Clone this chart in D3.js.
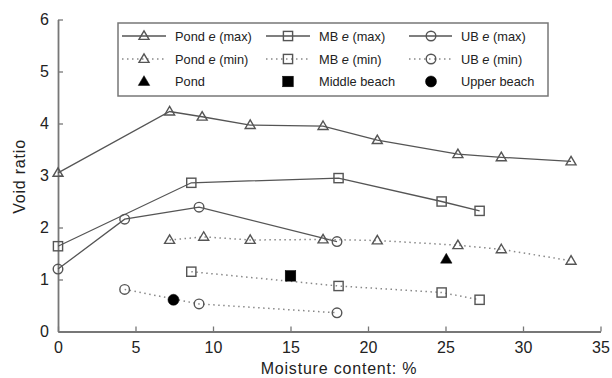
<!DOCTYPE html>
<html>
<head>
<meta charset="utf-8">
<script src="https://cdn.jsdelivr.net/npm/d3@7"></script>
<style>
  body { margin: 0; background: #fff; }
  svg { display: block; font-family: "Liberation Sans", Arial, sans-serif; }
</style>
</head>
<body>
<svg id="chart" width="612" height="378"></svg>
<script>
// ---- data ----
const xTicks = [0, 5, 10, 15, 20, 25, 30, 35];
const yTicks = [0, 1, 2, 3, 4, 5, 6];
const xTitle = "Moisture content: %";
const yTitle = "Void ratio";

const pondMax = [[0, 3.05], [7.2, 4.23], [9.3, 4.13], [12.4, 3.97], [17.1, 3.95], [20.6, 3.68], [25.8, 3.41], [28.6, 3.35], [33.1, 3.27]];
const mbMax   = [[0, 1.64], [8.6, 2.86], [18.1, 2.95], [24.75, 2.5], [27.2, 2.32]];
const ubMax   = [[0, 1.2], [4.3, 2.16], [9.1, 2.39], [18.0, 1.73]];
const pondMin = [[7.2, 1.76], [9.4, 1.82], [12.4, 1.76], [17.1, 1.77], [20.6, 1.75], [25.8, 1.66], [28.6, 1.58], [33.1, 1.36]];
const mbMin   = [[8.6, 1.15], [18.1, 0.875], [24.75, 0.75], [27.2, 0.61]];
const ubMin   = [[4.3, 0.81], [9.1, 0.53], [18.0, 0.36]];
const pondPt  = [[25.05, 1.39]];
const mbPt    = [[15.0, 1.07]];
const ubPt    = [[7.45, 0.61]];

const legendLabels = [
  ["Pond ", "e", " (max)"], ["MB ", "e", " (max)"], ["UB ", "e", " (max)"],
  ["Pond ", "e", " (min)"], ["MB ", "e", " (min)"], ["UB ", "e", " (min)"],
  ["Pond", "", ""], ["Middle beach", "", ""], ["Upper beach", "", ""]
];

// ---- layout ----
const svg = d3.select("#chart");
const x = d3.scaleLinear().domain([0, 35]).range([58, 600.5]);
const y = d3.scaleLinear().domain([0, 6]).range([331.5, 19.5]);

const lineCol = "#555";
const dotCol = "#888";
const axisCol = "#777";

// axes
const xAxis = d3.axisBottom(x).tickValues(xTicks).tickFormat(d3.format("d")).tickSizeInner(-5).tickSizeOuter(0).tickPadding(10);
const yAxis = d3.axisLeft(y).tickValues(yTicks).tickFormat(d3.format("d")).tickSizeInner(-5).tickSizeOuter(0).tickPadding(9);

const gx = svg.append("g").attr("transform", `translate(0,${y(0)})`).call(xAxis);
const gy = svg.append("g").attr("transform", `translate(${x(0)},0)`).call(yAxis);
[gx, gy].forEach(g => {
  g.select(".domain").attr("stroke", axisCol).attr("stroke-width", 1.8);
  g.selectAll(".tick line").attr("stroke", axisCol).attr("stroke-width", 1.3);
  g.selectAll(".tick text").attr("fill", "#222").attr("font-size", 16)
    .attr("font-family", '"Liberation Sans", Arial, sans-serif');
});

svg.append("text").attr("x", 339).attr("y", 374).attr("text-anchor", "middle")
  .attr("font-size", 16).attr("fill", "#222").attr("letter-spacing", 0.8).text(xTitle);
svg.append("text").attr("transform", "translate(25,176.5) rotate(-90)").attr("text-anchor", "middle")
  .attr("font-size", 16).attr("fill", "#222").attr("letter-spacing", 0.8).text(yTitle);

// marker drawing
function marker(g, type, cx, cy, filled, big) {
  const s = big ? 1.15 : 1;
  const fill = filled ? "#000" : "none";
  const stroke = filled ? "#000" : lineCol;
  const sw = filled ? 0.5 : 1.4;
  if (type === "tri") {
    const w = 5 * s, h = 8.5 * s;
    g.append("path")
      .attr("d", `M${cx},${cy - h * 0.6}L${cx + w},${cy + h * 0.4}L${cx - w},${cy + h * 0.4}Z`)
      .attr("fill", fill).attr("stroke", stroke).attr("stroke-width", sw);
  } else if (type === "sq") {
    const a = 4.6 * s;
    g.append("rect").attr("x", cx - a).attr("y", cy - a).attr("width", 2 * a).attr("height", 2 * a)
      .attr("fill", fill).attr("stroke", stroke).attr("stroke-width", sw);
  } else {
    g.append("circle").attr("cx", cx).attr("cy", cy).attr("r", 4.8 * s)
      .attr("fill", fill).attr("stroke", stroke).attr("stroke-width", sw);
  }
}

const line = d3.line().x(d => x(d[0])).y(d => y(d[1]));
const series = [
  { data: pondMax, type: "tri", dotted: false },
  { data: mbMax, type: "sq", dotted: false },
  { data: ubMax, type: "circ", dotted: false },
  { data: pondMin, type: "tri", dotted: true },
  { data: mbMin, type: "sq", dotted: true },
  { data: ubMin, type: "circ", dotted: true }
];
const plot = svg.append("g");
series.forEach(s => {
  plot.append("path").attr("d", line(s.data)).attr("fill", "none")
    .attr("stroke", s.dotted ? dotCol : lineCol)
    .attr("stroke-width", s.dotted ? 1.5 : 1.3)
    .attr("stroke-dasharray", s.dotted ? "1.5,3.5" : null);
  s.data.forEach(d => marker(plot, s.type, x(d[0]), y(d[1]), false, false));
});
[[pondPt, "tri"], [mbPt, "sq"], [ubPt, "circ"]].forEach(([data, t]) => {
  data.forEach(d => marker(plot, t, x(d[0]), y(d[1]), true, true));
});

// legend
const leg = svg.append("g");
leg.append("rect").attr("x", 118).attr("y", 23).attr("width", 430).attr("height", 73)
  .attr("fill", "#fff").attr("stroke", axisCol).attr("stroke-width", 1.5);
const colX = [{ l0: 122, l1: 166, m: 144, t: 175 }, { l0: 266, l1: 310, m: 288, t: 319 }, { l0: 409, l1: 452, m: 431, t: 461 }];
const rowY = [36, 59, 81.5];
const types = ["tri", "sq", "circ"];
legendLabels.forEach((lab, i) => {
  const r = Math.floor(i / 3), c = i % 3;
  const cy = rowY[r], cc = colX[c];
  if (r < 2) {
    leg.append("line").attr("x1", cc.l0).attr("x2", cc.l1).attr("y1", cy).attr("y2", cy)
      .attr("stroke", r === 1 ? dotCol : lineCol)
      .attr("stroke-width", r === 1 ? 1.5 : 1.3)
      .attr("stroke-dasharray", r === 1 ? "1.5,3.5" : null);
  }
  marker(leg, types[c], cc.m, cy, r === 2, r === 2);
  const t = leg.append("text").attr("x", cc.t).attr("y", cy + 4.5).attr("font-size", 12.8).attr("fill", "#222");
  t.append("tspan").text(lab[0]);
  if (lab[1]) t.append("tspan").attr("font-style", "italic").text(lab[1]);
  if (lab[2]) t.append("tspan").text(lab[2]);
});
</script>
</body>
</html>
